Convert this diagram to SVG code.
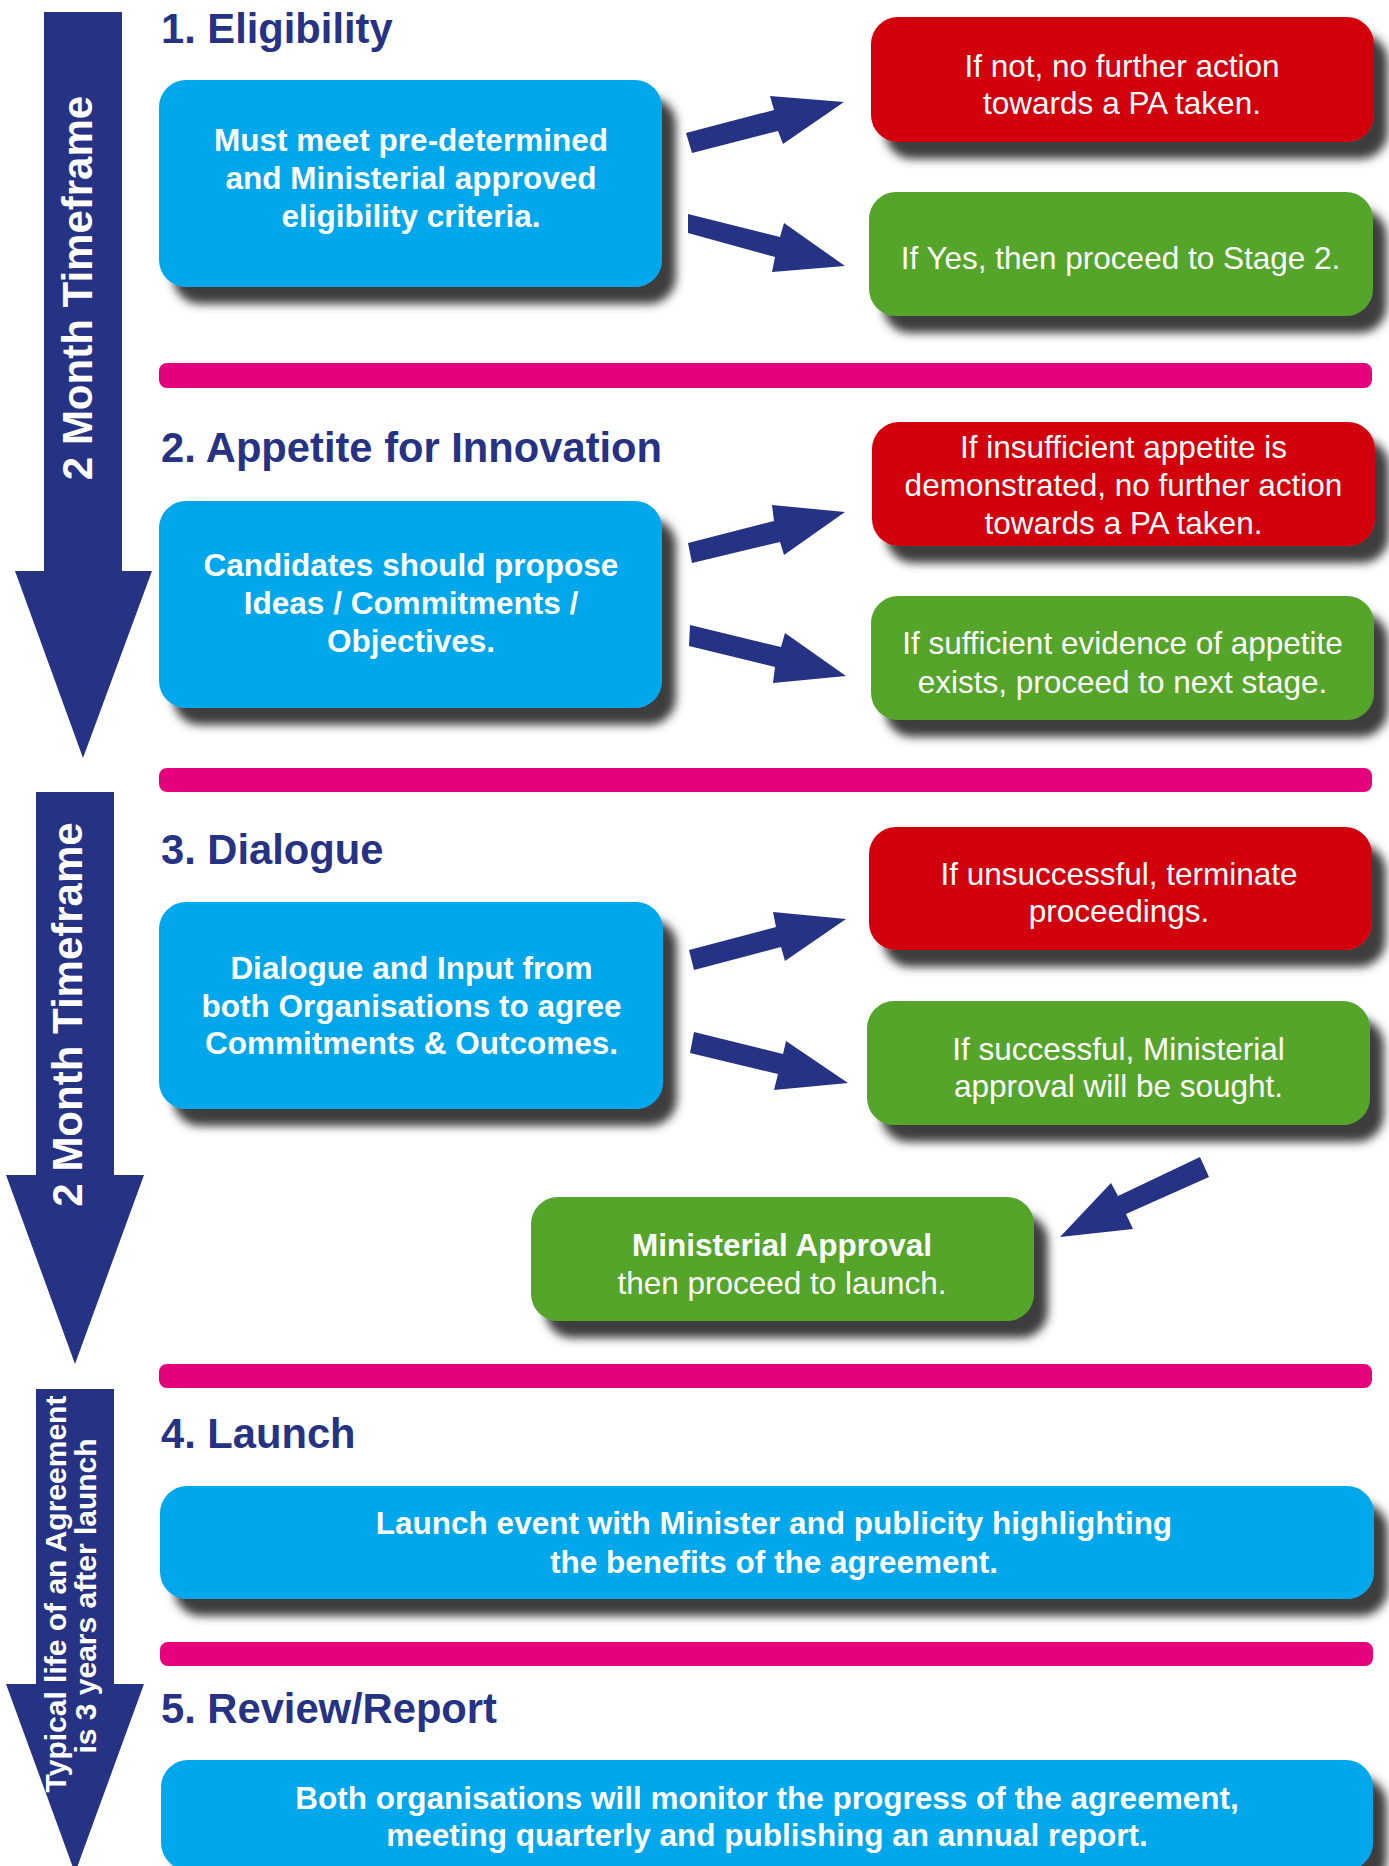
<svg xmlns="http://www.w3.org/2000/svg" width="1389" height="1866" viewBox="0 0 1389 1866">
<defs>
<filter id="shadow" x="-10%" y="-20%" width="130%" height="170%">
<feGaussianBlur in="SourceAlpha" stdDeviation="5"/>
<feOffset dx="14" dy="17" result="b"/>
<feFlood flood-color="#3d3d3d"/>
<feComposite in2="b" operator="in"/>
<feMerge><feMergeNode/><feMergeNode in="SourceGraphic"/></feMerge>
</filter>
</defs>
<style>
.box{filter:url(#shadow)}
.blue{fill:#00a7ea}
.red{fill:#d20010}
.green{fill:#54a52b}
.navy{fill:#263284}
.sep{fill:#e5007d}
text{font-family:"Liberation Sans",Arial,Helvetica,sans-serif;fill:#ffffff;text-anchor:middle}
.t{font-size:31.5px}
.b{font-size:31.5px;font-weight:bold}
.h{font-size:41.7px;font-weight:bold;fill:#263284;text-anchor:start}
.v{font-size:42px;font-weight:bold}
.v2{font-size:30px;font-weight:bold}
</style>
<rect width="1389" height="1866" fill="#ffffff"/>

<g id="timeline-1">
<polygon class="navy" points="44,12 122,12 122,571 152,571 83,758 15,571 44,571"/>
<text class="v" transform="translate(91.5,288) rotate(-90)">2 Month Timeframe</text>
</g>
<g id="timeline-2">
<polygon class="navy" points="36,792 114,792 114,1175 144,1175 75,1364 6,1175 36,1175"/>
<text class="v" transform="translate(82,1014.5) rotate(-90)">2 Month Timeframe</text>
</g>
<g id="timeline-3">
<polygon class="navy" points="36,1389 114,1389 114,1684 144,1684 75,1873 6,1684 36,1684"/>
<text class="v2" transform="translate(66,1594) rotate(-90)">Typical life of an Agreement</text>
<text class="v2" transform="translate(96,1596) rotate(-90)">is 3 years after launch</text>
</g>

<g id="separators">
<rect class="sep" x="159" y="363" width="1213" height="25" rx="8"/>
<rect class="sep" x="159" y="768" width="1213" height="24" rx="8"/>
<rect class="sep" x="159" y="1364" width="1213" height="24" rx="8"/>
<rect class="sep" x="160" y="1642" width="1213" height="24" rx="8"/>
</g>

<g id="headings">
<text class="h" x="161" y="43">1. Eligibility</text>
<text class="h" x="161" y="462">2. Appetite for Innovation</text>
<text class="h" x="161" y="864">3. Dialogue</text>
<text class="h" x="161" y="1448">4. Launch</text>
<text class="h" x="161" y="1723">5. Review/Report</text>
</g>

<g id="connectors">
<polygon class="navy" points="686,133 774,110 770,96 844,102 783,144 778,131 692,153"/>
<polygon class="navy" points="688,214 780,237 784,223 845,266 772,272 775,257 688,233"/>
<polygon class="navy" points="688,543 774,521 772,505 845,512 784,555 780,542 692,563"/>
<polygon class="navy" points="690,625 781,647 785,633 846,676 773,683 775,667 689,646"/>
<polygon class="navy" points="689,950 776,927 773,912 846,919 785,961 781,947 694,970"/>
<polygon class="navy" points="694,1032 783,1054 786,1041 848,1083 774,1090 778,1074 690,1053"/>
<polygon class="navy" points="1200,1157 1118,1196 1111,1183 1060,1237 1133,1229 1126,1214 1209,1177"/>
</g>

<g id="eligibility">
<rect class="box blue" x="159" y="80" width="503" height="207" rx="27"/>
<text class="b" x="411" y="151">Must meet pre-determined</text>
<text class="b" x="411" y="189">and Ministerial approved</text>
<text class="b" x="411" y="227">eligibility criteria.</text>
</g>
<g id="eligibility-no">
<rect class="box red" x="871" y="17" width="503" height="125" rx="27"/>
<text class="t" x="1122" y="77">If not, no further action</text>
<text class="t" x="1122" y="114">towards a PA taken.</text>
</g>
<g id="eligibility-yes">
<rect class="box green" x="869" y="192" width="504" height="124" rx="27"/>
<text class="t" x="1120.5" y="269">If Yes, then proceed to Stage 2.</text>
</g>

<g id="appetite">
<rect class="box blue" x="159" y="501" width="503" height="207" rx="27"/>
<text class="b" x="411" y="576">Candidates should propose</text>
<text class="b" x="411" y="614">Ideas / Commitments /</text>
<text class="b" x="411" y="652">Objectives.</text>
</g>
<g id="appetite-no">
<rect class="box red" x="872" y="422" width="503" height="124" rx="27"/>
<text class="t" x="1123.5" y="458">If insufficient appetite is</text>
<text class="t" x="1123.5" y="496">demonstrated, no further action</text>
<text class="t" x="1123.5" y="534">towards a PA taken.</text>
</g>
<g id="appetite-yes">
<rect class="box green" x="871" y="596" width="503" height="124" rx="27"/>
<text class="t" x="1122.5" y="654">If sufficient evidence of appetite</text>
<text class="t" x="1122.5" y="693">exists, proceed to next stage.</text>
</g>

<g id="dialogue">
<rect class="box blue" x="159" y="902" width="504" height="207" rx="27"/>
<text class="b" x="411.5" y="979">Dialogue and Input from</text>
<text class="b" x="411.5" y="1017">both Organisations to agree</text>
<text class="b" x="411.5" y="1054">Commitments &amp; Outcomes.</text>
</g>
<g id="dialogue-no">
<rect class="box red" x="869" y="827" width="503" height="123" rx="27"/>
<text class="t" x="1119" y="885">If unsuccessful, terminate</text>
<text class="t" x="1119" y="922">proceedings.</text>
</g>
<g id="dialogue-yes">
<rect class="box green" x="867" y="1001" width="503" height="124" rx="27"/>
<text class="t" x="1118.5" y="1060">If successful, Ministerial</text>
<text class="t" x="1118.5" y="1097">approval will be sought.</text>
</g>
<g id="ministerial-approval">
<rect class="box green" x="531" y="1197" width="503" height="124" rx="27"/>
<text class="b" x="782" y="1256">Ministerial Approval</text>
<text class="t" x="782" y="1294">then proceed to launch.</text>
</g>

<g id="launch">
<rect class="box blue" x="160" y="1486" width="1214" height="113" rx="27"/>
<text class="b" x="774" y="1534">Launch event with Minister and publicity highlighting</text>
<text class="b" x="774" y="1573">the benefits of the agreement.</text>
</g>
<g id="review">
<rect class="box blue" x="161" y="1760" width="1212" height="110" rx="27"/>
<text class="b" x="767" y="1809">Both organisations will monitor the progress of the agreement,</text>
<text class="b" x="767" y="1846">meeting quarterly and publishing an annual report.</text>
</g>
</svg>
